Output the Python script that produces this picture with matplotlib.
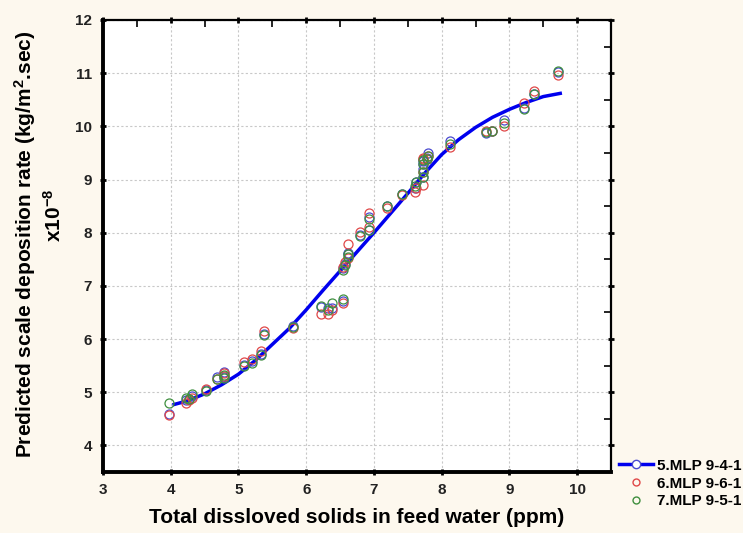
import numpy as np
import matplotlib.pyplot as plt
from matplotlib.lines import Line2D

plt.rcParams['mathtext.fontset'] = 'custom'
plt.rcParams['mathtext.rm'] = 'Liberation Sans:bold'
plt.rcParams['mathtext.bf'] = 'Liberation Sans:bold'
plt.rcParams['mathtext.default'] = 'bf'

# data
tds = [3.98, 4.22, 4.27, 4.32, 4.52, 4.68, 4.78, 4.78, 5.08, 5.2, 5.33, 5.38, 5.8,
       6.22, 6.32, 6.38, 6.55, 6.55, 6.58, 6.61, 6.62, 6.8, 6.92, 6.93, 7.2, 7.42,
       7.6, 7.62, 7.72, 7.72, 7.72, 7.72, 7.8, 7.78, 8.12, 8.65, 8.75, 8.92, 9.22,
       9.37, 9.72]
mlp_941 = [4.6, 4.85, 4.88, 4.93, 5.05, 5.28, 5.38, 5.28, 5.52, 5.58, 5.72, 6.1, 6.25,
           6.6, 6.58, 6.58, 6.72, 7.33, 7.42, 7.6, 7.62, 7.95, 8.05, 8.3, 8.5, 8.72,
           8.85, 8.95, 9.05, 9.2, 9.3, 9.35, 9.5, 9.4, 9.72, 9.88, 9.92, 10.12, 10.35,
           10.6, 11.02]
mlp_961 = [4.58, 4.8, 4.85, 4.9, 5.07, 5.25, 5.36, 5.3, 5.56, 5.63, 5.78, 6.15, 6.2,
           6.47, 6.47, 6.55, 6.68, 7.35, 7.45, 7.52, 7.78, 8.02, 8.1, 8.37, 8.47, 8.7,
           8.77, 8.85, 8.9, 9.15, 9.38, 9.4, 9.45, 9.38, 9.62, 9.92, 9.92, 10.0, 10.43,
           10.67, 10.97]
mlp_951 = [4.8, 4.9, 4.88, 4.97, 5.03, 5.25, 5.32, 5.27, 5.5, 5.55, 5.7, 6.07, 6.23,
           6.62, 6.55, 6.68, 6.75, 7.3, 7.4, 7.55, 7.6, 7.93, 8.05, 8.25, 8.5, 8.73,
           8.88, 8.95, 9.05, 9.15, 9.3, 9.37, 9.45, 9.38, 9.67, 9.9, 9.92, 10.07, 10.32,
           10.6, 11.05]

# fitted curve (5.MLP 9-4-1)
curve_x = [4.05, 4.25, 4.5, 4.75, 5.0, 5.25, 5.5, 5.75, 6.0, 6.25, 6.5, 6.75, 7.0,
           7.25, 7.5, 7.75, 8.0, 8.25, 8.5, 8.75, 9.0, 9.25, 9.5, 9.75]
curve_y = [4.77, 4.84, 4.97, 5.14, 5.34, 5.6, 5.9, 6.2, 6.55, 6.92, 7.28, 7.64, 8.0,
           8.37, 8.74, 9.12, 9.47, 9.75, 9.98, 10.17, 10.32, 10.45, 10.56, 10.62]

blue = '#4a4ad0'
red = '#e04848'
green = '#3f8f3f'

fig = plt.figure(figsize=(7.43, 5.33), dpi=100)
fig.patch.set_facecolor('#fdf8ee')
ax = fig.add_axes([0.1386, 0.1144, 0.6838, 0.8481])
ax.set_facecolor('white')

ax.plot(curve_x, curve_y, color='#0000ee', lw=2.5, zorder=3)
ms = 6.5
ax.plot(tds, mlp_941, 'o', mfc='none', mec=blue, ms=ms, mew=0.9, zorder=4)
ax.plot(tds, mlp_961, 'o', mfc='none', mec=red, ms=ms, mew=0.9, zorder=5)
ax.plot(tds, mlp_951, 'o', mfc='none', mec=green, ms=ms, mew=0.9, zorder=6)

ax.set_xlim(3, 10.5)
ax.set_ylim(3.5, 12)
ax.set_xticks(np.arange(3, 11, 1))
ax.set_yticks(np.arange(4, 13, 1))
ax.set_xticks(np.arange(3, 10.6, 0.5), minor=True)
ax.set_yticks(np.arange(3.5, 12.1, 0.5), minor=True)
ax.grid(True, which='major', color='#c8c8c8', ls=(0, (2, 2)), lw=0.8)

for s in ['left', 'bottom']:
    ax.spines[s].set_linewidth(2.8)
for s in ['top', 'right']:
    ax.spines[s].set_linewidth(1.6)

ax.tick_params(which='major', direction='inout', length=4, width=2,
               top=True, right=True, labelsize=11, pad=6, labelcolor='#222222')
ax.tick_params(which='minor', direction='in', length=5, width=1.2,
               top=True, right=True, bottom=False, left=False)
for lbl in ax.get_xticklabels() + ax.get_yticklabels():
    lbl.set_fontweight('bold')
    lbl.set_fontfamily('Liberation Sans')

ax.set_xlabel('Total dissloved solids in feed water (ppm)', fontsize=15,
              fontweight='bold', family='Liberation Sans', labelpad=8)
ax.set_ylabel('Predicted scale deposition rate (kg/m$^{2}$.sec)',
              fontsize=15, fontweight='bold', family='Liberation Sans')
ax.yaxis.set_label_coords(-0.128, 0.505)
fig.text(54 / 743, 1 - 215 / 533, 'x10$^{-8}$', rotation=90, fontsize=15,
         fontweight='bold', family='Liberation Sans', ha='center', va='center')

handles = [Line2D([], [], color='#0000ee', lw=2.5, marker='o', mfc='white',
                  mec=blue, ms=6),
           Line2D([], [], ls='none', marker='o', mfc='none', mec=red, ms=5),
           Line2D([], [], ls='none', marker='o', mfc='none', mec=green, ms=5)]
fig.legend(handles, ['5.MLP 9-4-1', '6.MLP 9-6-1', '7.MLP 9-5-1'],
           loc='upper left', bbox_to_anchor=(0.815, 0.165), frameon=False,
           prop={'family': 'Liberation Sans', 'weight': 'bold', 'size': 11},
           handlelength=2.2, handletextpad=0.3, labelspacing=0.25)

fig.savefig('out.png', dpi=100, facecolor=fig.get_facecolor())
